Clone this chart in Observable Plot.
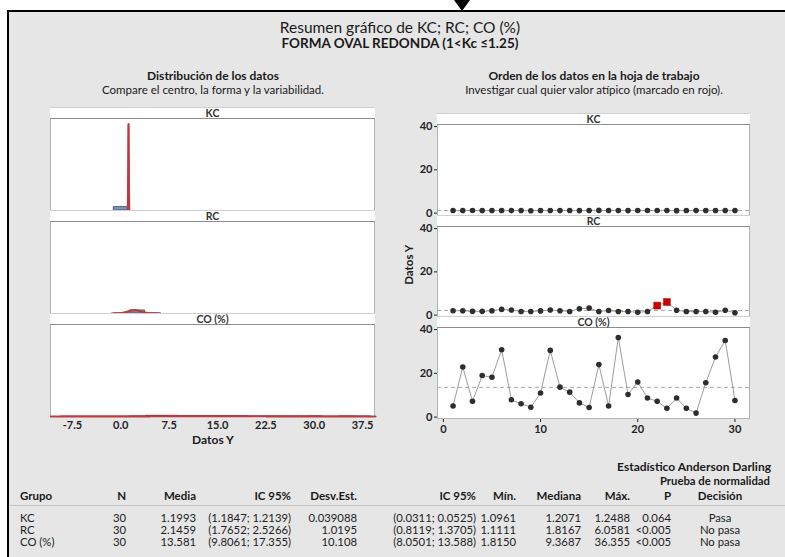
<!DOCTYPE html>
<html>
<head>
<meta charset="utf-8">
<script src="https://cdn.jsdelivr.net/npm/d3@7"></script>
<script src="https://cdn.jsdelivr.net/npm/@observablehq/plot@0.6"></script>
<style>
  html, body { margin: 0; padding: 0; background: #fff; }
  #root { position: relative; width: 785px; height: 557px; overflow: hidden; background: #fff; font-family: Lato, "Noto Sans", sans-serif; color: #1a1a1a; }
  #frame { position: absolute; left: 7px; top: 10px; width: 820px; height: 600px; background: #e6e6e6; border-left: 2px solid #000; border-top: 2px solid #000; }
  #arrow { position: absolute; left: 454px; top: 0px; width: 0; height: 0; border-left: 8px solid transparent; border-right: 8px solid transparent; border-top: 11px solid #000; }
  .txt { position: absolute; white-space: nowrap; line-height: 1; }
  .panel { position: absolute; background: #fff; border: 1px solid #b4b4b4; box-sizing: border-box; }
  .strip { position: absolute; background: #fff; border-top: 1px solid #cfcfcf; border-bottom: 1px solid #8c8c8c; box-sizing: border-box; text-align: center; font-size: 10.5px; font-weight: bold; color: #333; line-height: 11px; }
  .plot { position: absolute; }
  .plot svg { overflow: visible; }
</style>
</head>
<body>
<div id="root">
  <div id="frame"></div>
  <div id="arrow"></div>
</div>
<script>
// ---------- data ----------
const groups = ["KC", "RC", "CO (%)"];
const kcValues = [1.2100, 1.1850, 1.2200, 1.2071, 1.1950, 1.2300, 1.1750, 1.2150, 1.0961, 1.2250,
                  1.2071, 1.1900, 1.2350, 1.1600, 1.2120, 1.2488, 1.1980, 1.2050, 1.1700, 1.2180,
                  1.2400, 1.1820, 1.2090, 1.1500, 1.2260, 1.2000, 1.1880, 1.2150, 1.2330, 1.2050];
const rcValues = [2.00, 2.05, 1.75, 1.75, 2.05, 2.65, 2.35, 1.70, 1.70, 1.95,
                  2.35, 2.05, 1.70, 2.95, 3.25, 1.70, 2.15, 1.65, 1.65, 1.35,
                  1.65, 4.40, 6.0581, 2.25, 1.65, 1.65, 1.65, 1.35, 2.25, 1.1111];
const coValues = [5.1, 22.9, 7.2, 19.0, 18.2, 30.8, 7.9, 6.1, 4.5, 11.0,
                  30.5, 13.7, 11.4, 6.5, 4.4, 24.0, 5.1, 36.355, 10.3, 16.0,
                  8.7, 7.2, 4.0, 8.7, 4.0, 1.815, 15.7, 27.5, 35.0, 7.6];
const outlierObs = [[], [22, 23], []];

const nValues = [30, 30, 30];
const means = [1.1993, 2.1459, 13.581];
const sds = [0.039088, 1.0195, 10.108];
const meanLabels = ["1.1993", "2.1459", "13.581"];
const ciMeanLabels = ["(1.1847; 1.2139)", "(1.7652; 2.5266)", "(9.8061; 17.355)"];
const sdLabels = ["0.039088", "1.0195", "10.108"];
const ciSdLabels = ["(0.0311; 0.0525)", "(0.8119; 1.3705)", "(8.0501; 13.588)"];
const minLabels = ["1.0961", "1.1111", "1.8150"];
const medianLabels = ["1.2071", "1.8167", "9.3687"];
const maxLabels = ["1.2488", "6.0581", "36.355"];
const pLabels = ["0.064", "<0.005", "<0.005"];
const decisionLabels = ["Pasa", "No pasa", "No pasa"];

const histTicks = [-7.5, 0, 7.5, 15, 22.5, 30, 37.5];
const orderXTicks = [0, 10, 20, 30];
const orderYTicks = [0, 20, 40];
const binWidth = 2.5;
const binStart = -1.25;
const binEnd = 38.75;

// ---------- helpers ----------
const root = document.getElementById("root");
function text(str, x, y, opts = {}) {
  const size = opts.size || 10;
  const d = document.createElement("div");
  d.className = "txt";
  d.textContent = str;
  d.style.fontSize = size + "px";
  d.style.fontWeight = opts.weight || "normal";
  if (opts.color) d.style.color = opts.color;
  d.style.top = (y - size / 2) + "px";
  const align = opts.align || "center";
  if (align === "center") { d.style.left = (x - 300) + "px"; d.style.width = "600px"; d.style.textAlign = "center"; }
  else if (align === "right") { d.style.left = (x - 400) + "px"; d.style.width = "400px"; d.style.textAlign = "right"; }
  else { d.style.left = x + "px"; }
  if (opts.rotate) { d.style.transform = "rotate(-90deg)"; }
  root.appendChild(d);
  return d;
}
function box(cls, x, y, w, h, label) {
  const d = document.createElement("div");
  d.className = cls;
  d.style.left = x + "px"; d.style.top = y + "px";
  d.style.width = w + "px"; d.style.height = h + "px";
  if (label) d.textContent = label;
  root.appendChild(d);
  return d;
}
function place(svg, x, y) {
  const d = document.createElement("div");
  d.className = "plot";
  d.style.left = x + "px"; d.style.top = y + "px";
  d.appendChild(svg);
  root.appendChild(d);
}

// ---------- titles ----------
text("Resumen gráfico de KC; RC; CO (%)", 400, 28, {size: 15.5});
text("FORMA OVAL REDONDA (1<Kc ≤1.25)", 400, 44, {size: 13.5, weight: "bold"});
text("Distribución de los datos", 213, 76, {size: 12, weight: "bold"});
text("Compare el centro, la forma y la variabilidad.", 213, 90, {size: 11.5});
text("Orden de los datos en la hoja de trabajo", 594, 76, {size: 12, weight: "bold"});
text("Investigar cual quier valor atípico (marcado en rojo).", 594, 90, {size: 11.5});

const allValues = [kcValues, rcValues, coValues];
const plotStyle = {background: "transparent", fontFamily: "Lato, 'Noto Sans', sans-serif", fontSize: "11px", fontWeight: "bold", color: "#222", overflow: "visible"};

// ---------- left: histograms ----------
const histX = 50, histW = 325;
const histTops = [119, 222, 325];
const histStrips = [107, 210, 313];
box("panel", histX, 107, histW, 310);
const thresholds = d3.range(binStart, binEnd + 0.001, binWidth);
const xDomainHist = [-10.9, 39.5];
groups.forEach((g, gi) => {
  box("strip", histX, histStrips[gi], histW, 12, g);
  const mean = means[gi], sd = sds[gi];
  const rows = allValues[gi].map(v => ({value: v}));
  const curve = d3.range(0, 801)
    .map(i => mean - 3.5 * sd + i * 7 * sd / 800)
    .filter(x => x >= xDomainHist[0] && x <= xDomainHist[1])
    .map(x => ({x, y: binWidth * Math.exp(-0.5 * ((x - mean) / sd) ** 2) / (sd * Math.sqrt(2 * Math.PI))}));
  const last = gi === groups.length - 1;
  const svg = Plot.plot({
    width: histW, height: last ? 91 + 36 : 91,
    marginTop: 0, marginLeft: 0, marginRight: 0, marginBottom: last ? 36 : 0,
    style: plotStyle,
    x: {domain: xDomainHist, ticks: histTicks, tickFormat: d => d.toFixed(1), tickSize: 0, tickPadding: 5, label: null, axis: last ? "bottom" : null},
    y: {domain: [0, 26.9], axis: null},
    marks: [
      Plot.ruleY([0], {x1: thresholds[0], x2: thresholds[thresholds.length - 1], stroke: "#555", strokeWidth: 1}),
      Plot.rectY(rows, Plot.binX({y: "proportion"}, {x: "value", thresholds, fill: "#7395c6", stroke: "#3f4f6a", strokeWidth: 0.8})),
      Plot.line(curve, {x: "x", y: "y", stroke: "#bb3b3e", strokeWidth: 2.2})
    ]
  });
  place(svg, histX, histTops[gi]);
});
text("Datos Y", 213, 440, {size: 12, weight: "bold"});

// ---------- right: order plots ----------
const ordX = 437, ordW = 313, ordML = 20;
const ordTops = [125, 227, 328];
const ordStrips = [113, 215, 316];
box("panel", ordX, 113, ordW, 306);
groups.forEach((g, gi) => {
  box("strip", ordX, ordStrips[gi], ordW, 12, g);
  const rows = allValues[gi].map((v, i) => ({obs: i + 1, value: v, out: outlierObs[gi].includes(i + 1)}));
  const last = gi === groups.length - 1;
  const svg = Plot.plot({
    width: ordW + ordML, height: last ? 91 + 22 : 90,
    marginTop: 0, marginLeft: ordML, marginRight: 0, marginBottom: last ? 22 : 0,
    style: plotStyle,
    x: {domain: [-0.6, 31.6], ticks: orderXTicks, tickSize: 3, tickPadding: 3, label: null, axis: last ? "bottom" : null},
    y: {domain: [-1.1, 40.5], ticks: orderYTicks, tickSize: 3, tickPadding: 2, label: null},
    marks: [
      Plot.ruleY([means[gi]], {stroke: "#a9a9a9", strokeDasharray: "4,3", strokeWidth: 1}),
      Plot.line(rows, {x: "obs", y: "value", stroke: "#9c9c9c", strokeWidth: 1}),
      Plot.dot(rows.filter(d => !d.out), {x: "obs", y: "value", r: 2.8, fill: "#2e2e2e"}),
      Plot.dot(rows.filter(d => d.out), {x: "obs", y: "value", r: 3.9, symbol: "square", fill: "#d10000", stroke: "#8a0000", strokeWidth: 0.5})
    ]
  });
  place(svg, ordX - ordML, ordTops[gi]);
});
text("Datos Y", 409, 265, {size: 11.5, weight: "bold", rotate: true});

// ---------- table ----------
text("Estadístico Anderson Darling", 771, 467, {size: 12, weight: "bold", align: "right"});
text("Prueba de normalidad", 770, 481, {size: 11.3, weight: "bold", align: "right"});
const sep = document.createElement("div");
sep.style.cssText = "position:absolute;left:9px;top:505px;width:780px;height:1px;background:#c4c4c4;";
root.appendChild(sep);
const columns = [
  {h: "Grupo", v: groups, x: 20, align: "left"},
  {h: "N", v: nValues, x: 126, align: "right"},
  {h: "Media", v: meanLabels, x: 196, align: "right"},
  {h: "IC 95%", v: ciMeanLabels, x: 291, align: "right"},
  {h: "Desv.Est.", v: sdLabels, x: 357, align: "right"},
  {h: "IC 95%", v: ciSdLabels, x: 476, align: "right"},
  {h: "Mín.", v: minLabels, x: 516, align: "right"},
  {h: "Mediana", v: medianLabels, x: 581, align: "right"},
  {h: "Máx.", v: maxLabels, x: 630, align: "right"},
  {h: "P", v: pLabels, x: 671, align: "right"},
  {h: "Decisión", v: decisionLabels, x: 720, align: "center"}
];
const rowYs = [518, 530, 542];
columns.forEach(c => {
  text(c.h, c.x, 496, {size: 11.5, weight: "bold", align: c.align});
  c.v.forEach((val, i) => text(String(val), c.x, rowYs[i], {size: 11.3, align: c.align, color: "#222"}));
});
</script>
</body>
</html>
